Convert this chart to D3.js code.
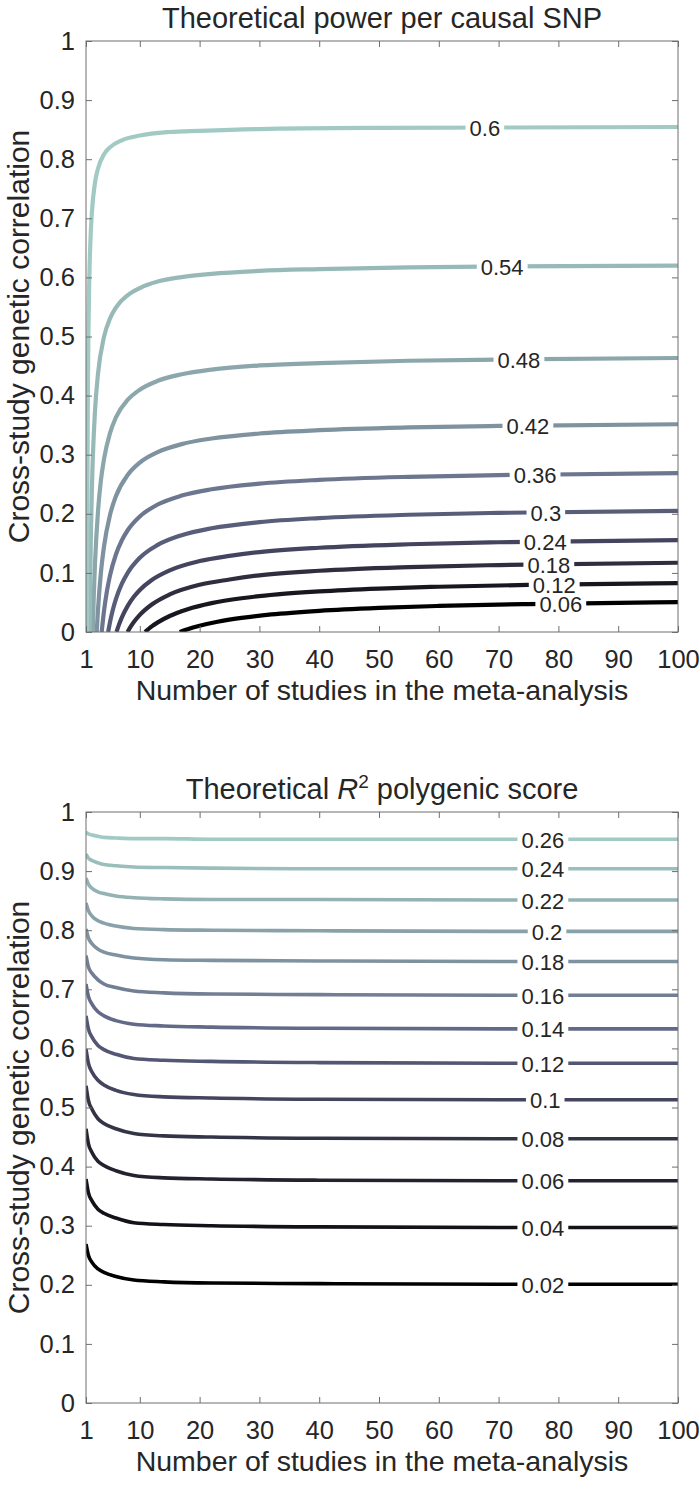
<!DOCTYPE html>
<html><head><meta charset="utf-8">
<script src="https://cdn.jsdelivr.net/npm/d3@7"></script>
<style>
body{margin:0;background:#fff}
svg{display:block}
text{font-family:"Liberation Sans",Arial,Helvetica,sans-serif;fill:#262626}
</style>
</head><body>
<svg id="c" width="700" height="1485"></svg>
<script>
// ---------------- DATA ----------------
const xTicks = [1,10,20,30,40,50,60,70,80,90,100];
const yTicks = [0,0.1,0.2,0.3,0.4,0.5,0.6,0.7,0.8,0.9,1];
const yTickLabels = ["0","0.1","0.2","0.3","0.4","0.5","0.6","0.7","0.8","0.9","1"];

// Top panel: contours of theoretical power per causal SNP
const powerLevels = [0.06,0.12,0.18,0.24,0.3,0.36,0.42,0.48,0.54,0.6];
const powerK = [
  [16.67,17,18,20,23,27,32,40,50,60,75,100],
  [10.87,11.5,12,13,15,18,22,27,33,40,50,60,75,100],
  [7.94,8.5,9,10,12,15,20,25,30,40,55,70,100],
  [6.1,6.5,7,8,9,10,12,15,20,25,30,40,55,70,100],
  [4.7,5,5.5,6,7,8,10,13,17,22,30,40,55,70,100],
  [3.62,4,4.5,5,6,7,8,10,13,17,22,30,40,55,70,100],
  [2.79,3,3.5,4,5,6,8,10,13,17,22,30,40,55,70,100],
  [2.13,2.3,2.5,3,3.5,4,5,6,8,10,13,17,22,30,40,55,70,100],
  [1.6,1.8,2,2.5,3,4,5,6,8,10,13,17,22,30,40,55,70,100],
  [1.17,1.2,1.3,1.5,1.75,2,2.5,3,4,5,7,10,15,20,30,50,100]
];
const powerRg = [
  [0,0.0012,0.0047,0.0105,0.0173,0.0238,0.0297,0.0359,0.0408,0.0441,0.0473,0.0505],
  [0,0.0055,0.0095,0.0163,0.0271,0.0386,0.0488,0.0571,0.0636,0.0687,0.0735,0.0766,0.0797,0.0828],
  [0,0.0095,0.0168,0.0289,0.0465,0.0636,0.08,0.0889,0.0959,0.1036,0.1098,0.1133,0.1172],
  [0,0.012,0.0247,0.0446,0.0595,0.0711,0.088,0.1043,0.12,0.1288,0.1352,0.1426,0.1485,0.1519,0.1556],
  [0,0.016,0.038,0.0556,0.0818,0.1006,0.1256,0.1474,0.1638,0.1755,0.1859,0.1928,0.1984,0.2016,0.205],
  [0,0.0347,0.069,0.095,0.1312,0.1553,0.1726,0.1956,0.2157,0.2308,0.2415,0.251,0.2574,0.2626,0.2655,0.2687],
  [0,0.037,0.101,0.144,0.1975,0.2296,0.266,0.2867,0.3045,0.3179,0.3274,0.3359,0.3415,0.3461,0.3487,0.3515],
  [0,0.061,0.115,0.2035,0.257,0.292,0.336,0.363,0.393,0.41,0.425,0.436,0.444,0.451,0.455,0.459,0.461,0.4636],
  [0,0.154,0.248,0.373,0.436,0.499,0.53,0.549,0.57,0.582,0.593,0.6005,0.606,0.611,0.614,0.617,0.6185,0.62],
  [0,0.136,0.376,0.568,0.664,0.712,0.76,0.784,0.808,0.82,0.832,0.84,0.846,0.848,0.851,0.853,0.8545]
];
const powerLabels = ["0.06","0.12","0.18","0.24","0.3","0.36","0.42","0.48","0.54","0.6"];
const powerLabelK = [80.4,79.3,78.4,77.8,77.9,76.1,74.9,73.4,70.6,67.7];

// Bottom panel: contours of theoretical R^2 of polygenic score
const r2Levels = [0.02,0.04,0.06,0.08,0.1,0.12,0.14,0.16,0.18,0.2,0.22,0.24,0.26];
const r2K = [1,1.4,2,3,4,6,9,14,22,40,70,100];
const r2Rg = [
  [0.269,0.250,0.238,0.227,0.221,0.214,0.208,0.205,0.203,0.202,0.201,0.201],
  [0.379,0.356,0.342,0.328,0.321,0.313,0.305,0.302,0.300,0.298,0.297,0.297],
  [0.464,0.439,0.424,0.409,0.402,0.393,0.385,0.381,0.379,0.377,0.376,0.376],
  [0.537,0.512,0.497,0.481,0.473,0.464,0.456,0.452,0.450,0.448,0.447,0.447],
  [0.599,0.575,0.560,0.546,0.538,0.529,0.522,0.518,0.516,0.514,0.513,0.513],
  [0.655,0.633,0.619,0.605,0.598,0.590,0.583,0.580,0.578,0.576,0.575,0.575],
  [0.709,0.688,0.675,0.662,0.655,0.647,0.641,0.638,0.636,0.634,0.633,0.633],
  [0.757,0.738,0.727,0.716,0.709,0.703,0.697,0.694,0.692,0.691,0.690,0.690],
  [0.802,0.787,0.777,0.768,0.763,0.758,0.753,0.750,0.749,0.748,0.747,0.747],
  [0.846,0.833,0.824,0.816,0.812,0.807,0.803,0.801,0.800,0.799,0.798,0.798],
  [0.888,0.878,0.871,0.865,0.862,0.858,0.855,0.853,0.852,0.852,0.851,0.851],
  [0.929,0.922,0.918,0.914,0.911,0.909,0.907,0.906,0.905,0.904,0.904,0.904],
  [0.966,0.963,0.961,0.959,0.957,0.956,0.955,0.955,0.954,0.954,0.954,0.954]
];
const r2Labels = ["0.02","0.04","0.06","0.08","0.1","0.12","0.14","0.16","0.18","0.2","0.22","0.24","0.26"];
const r2LabelK = [77.4,77.4,77.4,77.4,77.8,77.4,77.4,77.4,77.4,78.1,77.4,77.4,77.4];

// ---------------- STYLE ----------------
const colorStops = ["#000000","#23232f","#44445f","#626a87","#7f929f","#92b2b3","#a2cac5"];
const cmap = d3.scaleLinear().domain(d3.range(colorStops.length).map(i=>i/(colorStops.length-1))).range(colorStops).interpolate(d3.interpolateRgb);
const axisColor = "#6e6e6e";
const FONT_TICK = 25.5, FONT_XLABEL = 28.5, FONT_YLABEL = 30, FONT_TITLE = 29, FONT_CONTOUR = 22;

const svg = d3.select("#c");

function interpAt(xs, ys, k){
  for(let i=1;i<xs.length;i++){
    if(k<=xs[i]){ const t=(k-xs[i-1])/(xs[i]-xs[i-1]); return ys[i-1]+t*(ys[i]-ys[i-1]); }
  }
  return ys[ys.length-1];
}

function panel(cfg){
  const x = d3.scaleLinear().domain([1,100]).range([86,678]);
  const y = d3.scaleLinear().domain([0,1]).range([cfg.bottom,cfg.top]);
  const g = svg.append("g");
  const clipId = "clip"+cfg.id;
  svg.append("clipPath").attr("id",clipId).append("rect")
    .attr("x",x.range()[0]).attr("y",cfg.top).attr("width",x.range()[1]-x.range()[0]).attr("height",cfg.bottom-cfg.top);

  // title
  cfg.title(g.append("text").attr("x",(x.range()[0]+x.range()[1])/2).attr("y",cfg.top-13)
    .attr("text-anchor","middle").style("font-size",FONT_TITLE+"px"));

  const lineGen = d3.line().x(d=>x(d[0])).y(d=>y(d[1])).curve(d3.curveMonotoneX);
  const lg = g.append("g").attr("clip-path",`url(#${clipId})`);
  cfg.curves.forEach((c,i)=>{
    const pts = c.K.map((k,j)=>[k,c.rg[j]]);
    lg.append("path").attr("d",lineGen(pts)).attr("fill","none")
      .attr("stroke",c.color).attr("stroke-width",cfg.lw).attr("stroke-linecap","butt");
  });
  // contour labels with gaps
  cfg.curves.forEach((c,i)=>{
    const lx = x(c.labelK), ly = y(interpAt(c.K,c.rg,c.labelK));
    const t = g.append("text").attr("x",lx).attr("y",ly+1).attr("text-anchor","middle")
      .attr("dominant-baseline","central").style("font-size",FONT_CONTOUR+"px").text(c.label);
    const w = t.node().getComputedTextLength();
    g.insert("rect",()=>t.node()).attr("x",lx-w/2-4).attr("y",ly-cfg.lw-1.5)
      .attr("width",w+8).attr("height",2*cfg.lw+3).attr("fill","#fff");
  });

  // frame and ticks
  const ax = g.append("g");
  ax.append("rect").attr("x",x.range()[0]).attr("y",cfg.top).attr("width",x.range()[1]-x.range()[0])
    .attr("height",cfg.bottom-cfg.top).attr("fill","none").attr("stroke",axisColor).attr("stroke-width",1);
  const bx = ax.append("g").attr("transform",`translate(0,${cfg.bottom})`)
    .call(d3.axisBottom(x).tickValues(xTicks).tickSize(-6).tickPadding(18).tickFormat(d3.format("d")));
  const tx = ax.append("g").attr("transform",`translate(0,${cfg.top})`)
    .call(d3.axisTop(x).tickValues(xTicks).tickSize(-6).tickFormat(""));
  const ly_ = ax.append("g").attr("transform",`translate(${x.range()[0]},0)`)
    .call(d3.axisLeft(y).tickValues(yTicks).tickSize(-6).tickPadding(11).tickFormat((d,i)=>yTickLabels[i]));
  const ry = ax.append("g").attr("transform",`translate(${x.range()[1]},0)`)
    .call(d3.axisRight(y).tickValues(yTicks).tickSize(-6).tickFormat(""));
  [bx,tx,ly_,ry].forEach(a=>{
    a.select(".domain").remove();
    a.selectAll(".tick line").attr("stroke",axisColor);
    a.selectAll(".tick text").style("font-size",FONT_TICK+"px").attr("fill","#262626")
      .style("font-family","'Liberation Sans',Arial,sans-serif");
  });

  // axis labels
  g.append("text").attr("x",(x.range()[0]+x.range()[1])/2).attr("y",cfg.bottom+68)
    .attr("text-anchor","middle").style("font-size",FONT_XLABEL+"px").text("Number of studies in the meta-analysis");
  g.append("text").attr("transform",`translate(29,${(cfg.top+cfg.bottom)/2}) rotate(-90)`)
    .attr("text-anchor","middle").style("font-size",FONT_YLABEL+"px").text("Cross-study genetic correlation");
}

panel({
  id:"top", top:41, bottom:632, lw:4.2,
  title: t=>t.text("Theoretical power per causal SNP"),
  curves: powerLevels.map((lv,i)=>({K:powerK[i], rg:powerRg[i], label:powerLabels[i], labelK:powerLabelK[i],
    color:cmap((lv-powerLevels[0])/(powerLevels[powerLevels.length-1]-powerLevels[0]))}))
});
panel({
  id:"bot", top:812, bottom:1403, lw:3.6,
  title: t=>{ t.append("tspan").text("Theoretical ");
              t.append("tspan").style("font-style","italic").text("R");
              t.append("tspan").attr("dy",-11).style("font-size","19px").text("2");
              t.append("tspan").attr("dy",11).text(" polygenic score"); },
  curves: r2Levels.map((lv,i)=>({K:r2K, rg:r2Rg[i], label:r2Labels[i], labelK:r2LabelK[i],
    color:cmap((lv-r2Levels[0])/(r2Levels[r2Levels.length-1]-r2Levels[0]))}))
});
</script>
</body></html>
